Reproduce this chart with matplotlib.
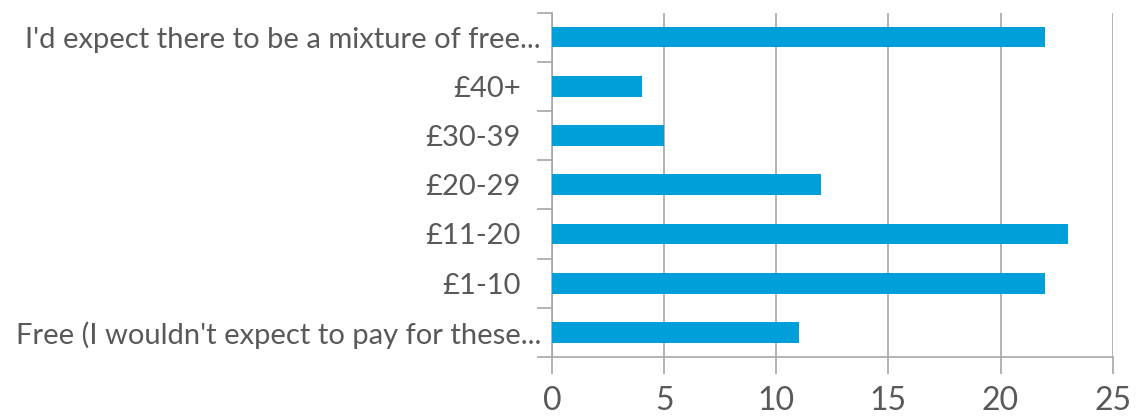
import numpy as np
import matplotlib
matplotlib.use("Agg")
import matplotlib.pyplot as plt
from matplotlib import transforms

# categories from bottom to top
categories = ["Free (I wouldn't expect to pay for these...", "£1-10", "£11-20",
              "£20-29", "£30-39", "£40+", "I'd expect there to be a mixture of free..."]
values = [11, 22, 23, 12, 5, 4, 22]
xticks = [0, 5, 10, 15, 20, 25]

bar_color = "#009FDA"
text_color = "#595959"
line_color = "#A6A6A6"

plt.rcParams['font.family'] = ['Lato', 'DejaVu Sans']

fig = plt.figure(figsize=(11.36, 4.18), dpi=100)
ax = fig.add_axes([552/1136, 1-357/418, (1112.7-552)/1136, (357-12.5)/418])

y = np.arange(len(categories))
ax.barh(y, values, height=0.42, color=bar_color, zorder=3)

ax.set_xlim(0, 25)
ax.set_ylim(-0.5, len(categories) - 0.5)
ax.set_xticks(xticks)
ax.set_xticklabels([str(t) for t in xticks], fontsize=23, color=text_color)
ax.set_yticks(y)
ax.set_yticklabels(categories, fontsize=21, color=text_color)
ax.set_yticks(np.arange(-0.5, len(categories)), minor=True)

ax.tick_params(axis='y', which='major', length=0, pad=8)
ax.tick_params(axis='y', which='minor', length=11, width=1.2, color=line_color, direction='out')
ax.tick_params(axis='x', length=12, width=1.2, color=line_color, direction='out', pad=9)

ax.grid(axis='x', color=line_color, linewidth=1.2, zorder=0)
for s in ['top', 'right']:
    ax.spines[s].set_visible(False)
for s in ['left', 'bottom']:
    ax.spines[s].set_color(line_color)
    ax.spines[s].set_linewidth(1.2)

# short labels sit a bit further left in the original
for lab in ax.get_yticklabels():
    if lab.get_text().startswith('£'):
        lab.set_transform(lab.get_transform() + transforms.ScaledTranslation(-20/100, 0, fig.dpi_scale_trans))

fig.savefig("out.png", dpi=100)
